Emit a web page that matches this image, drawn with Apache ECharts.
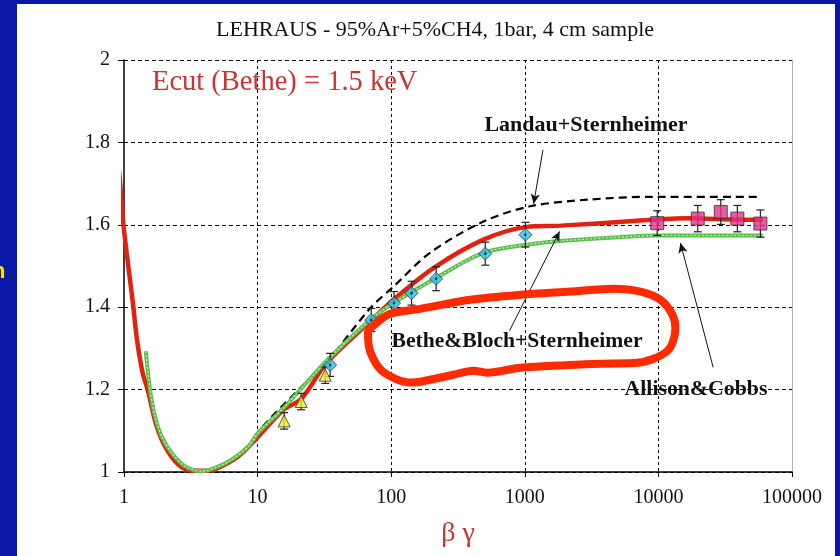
<!DOCTYPE html>
<html>
<head>
<meta charset="utf-8">
<script src="https://cdn.jsdelivr.net/npm/echarts@6/dist/echarts.min.js"></script>
<style>
  html, body { margin: 0; padding: 0; background: #0b18a6; overflow: hidden; }
  #panel { position: absolute; left: 17px; top: 4px; width: 818px; height: 552px; background: #fff; }
  #chart { position: absolute; left: 0; top: 0; width: 840px; height: 556px; }
</style>
</head>
<body>
<div id="panel"></div>
<div id="chart"></div>
<script>
// Relative most-probable energy loss vs beta*gamma, 95%Ar+5%CH4, 1 bar, 4 cm sample

// axis ticks
const xTickLabels = ['1', '10', '100', '1000', '10000', '100000'];
const yTickLabels = ['1', '1.2', '1.4', '1.6', '1.8', '2'];

// Bethe & Bloch + Sternheimer
const redX = [0.917, 0.95, 0.988, 1.047, 1.109, 1.174, 1.251, 1.38, 1.505, 1.727, 2.03, 2.55, 3.21, 4.28, 5.39, 7.18, 9.6, 15.6, 21.2, 32.9, 69.8, 104, 207, 490, 1035, 1855, 6500, 16400, 36600, 60500];
const redY = [1.733, 1.677, 1.604, 1.532, 1.467, 1.402, 1.321, 1.24, 1.2, 1.119, 1.062, 1.018, 1.003, 1.003, 1.014, 1.038, 1.078, 1.151, 1.177, 1.265, 1.366, 1.418, 1.495, 1.564, 1.595, 1.598, 1.609, 1.616, 1.613, 1.612];

// Allison & Cobbs
const greenX = [1.454, 1.566, 1.707, 1.916, 2.277, 2.86, 3.82, 4.8, 6.4, 8.52, 10.1, 15.6, 32.9, 70, 104, 207, 490, 1300, 2070, 5000, 9800, 60500];
const greenY = [1.293, 1.2, 1.135, 1.086, 1.046, 1.014, 1.002, 1.01, 1.03, 1.062, 1.095, 1.155, 1.27, 1.37, 1.41, 1.467, 1.532, 1.556, 1.562, 1.57, 1.574, 1.574];

// Landau + Sternheimer
const landauX = [1.454, 1.566, 1.707, 1.916, 2.277, 2.86, 3.82, 4.8, 6.4, 8.52, 10.4, 22.1, 32.1, 69.8, 104, 195, 490, 1100, 2940, 9200, 58000];
const landauY = [1.293, 1.2, 1.135, 1.086, 1.046, 1.014, 1.002, 1.01, 1.03, 1.062, 1.103, 1.212, 1.262, 1.398, 1.45, 1.532, 1.608, 1.645, 1.661, 1.668, 1.668];

// measurements (value and error)
const triX = [15.8, 21.2, 32.1];
const triY = [1.124, 1.171, 1.235];
const triErr = [0.02, 0.02, 0.02];

const diaX = [34.9, 70.9, 105, 142, 217, 506, 1010];
const diaY = [1.26, 1.369, 1.41, 1.434, 1.469, 1.53, 1.576];
const diaErr = [0.028, 0.028, 0.028, 0.029, 0.029, 0.028, 0.03];

const sqX = [9800, 19700, 29300, 39000, 58000];
const sqY = [1.604, 1.615, 1.631, 1.615, 1.603];
const sqErr = [0.03, 0.032, 0.03, 0.032, 0.033];

// hand-drawn highlight loop around the Bethe&Bloch label
const loopX = [73.3, 98.3, 165, 391, 925, 2192, 4602, 7333, 10350, 12730, 13410, 11680, 6961, 3678, 2192, 925, 524, 411, 291, 165, 139, 87, 70, 67, 73.3];
const loopY = [1.355, 1.384, 1.396, 1.418, 1.43, 1.438, 1.445, 1.438, 1.418, 1.382, 1.348, 1.294, 1.265, 1.263, 1.26, 1.253, 1.241, 1.246, 1.236, 1.219, 1.217, 1.243, 1.29, 1.338, 1.355];

// arrows: [fromX, fromY, toX, toY]
const arrowLandau = [1368, 1.782, 1164, 1.651];
const arrowBethe = [769, 1.343, 1823, 1.584];
const arrowAllison = [25690, 1.254, 14620, 1.556];

const SERIF = '"Liberation Serif", "Times New Roman", serif';

function pairs(xs, ys) { return xs.map((x, i) => [x, ys[i]]); }

function errorBars(xs, ys, es) {
  return {
    type: 'custom',
    z: 5,
    silent: true,
    data: xs.map((x, i) => [x, ys[i] - es[i], ys[i] + es[i]]),
    encode: { x: 0, y: [1, 2] },
    renderItem(params, api) {
      const lo = api.coord([api.value(0), api.value(1)]);
      const hi = api.coord([api.value(0), api.value(2)]);
      const w = 4;
      const st = { stroke: '#222', lineWidth: 1.2 };
      return {
        type: 'group',
        children: [
          { type: 'line', shape: { x1: lo[0], y1: lo[1], x2: hi[0], y2: hi[1] }, style: st },
          { type: 'line', shape: { x1: lo[0] - w, y1: lo[1], x2: lo[0] + w, y2: lo[1] }, style: st },
          { type: 'line', shape: { x1: hi[0] - w, y1: hi[1], x2: hi[0] + w, y2: hi[1] }, style: st }
        ]
      };
    }
  };
}

function arrow(a) {
  return [{ coord: [a[0], a[1]], symbol: 'none' }, { coord: [a[2], a[3]], symbol: 'arrow' }];
}

const chart = echarts.init(document.getElementById('chart'), null, { renderer: 'canvas' });

chart.setOption({
  backgroundColor: 'transparent',
  animation: false,
  grid: { left: 124, right: 48, top: 60, bottom: 84, containLabel: false },
  xAxis: {
    type: 'log',
    logBase: 10,
    min: 1,
    max: 100000,
    name: 'β γ',
    nameLocation: 'middle',
    nameGap: 48,
    nameTextStyle: { fontFamily: SERIF, fontSize: 28, color: '#c8342c' },
    axisLine: { onZero: false, lineStyle: { color: '#000', width: 1.5 } },
    axisTick: { show: true, length: 5, lineStyle: { color: '#000' } },
    minorTick: { show: false },
    axisLabel: {
      fontFamily: SERIF, fontSize: 20, color: '#111', margin: 16,
      formatter: v => xTickLabels[Math.round(Math.log10(v))]
    },
    splitLine: { show: true, showMinLine: false, showMaxLine: false, lineStyle: { color: '#000', type: [3, 3], width: 1 } }
  },
  yAxis: [
    {
      type: 'value',
      min: 1,
      max: 2,
      interval: 0.2,
      axisLine: { show: true, lineStyle: { color: '#000', width: 1.5 } },
      axisTick: { show: true, length: 6, lineStyle: { color: '#000' } },
      axisLabel: {
        fontFamily: SERIF, fontSize: 20, color: '#111', margin: 14,
        formatter: v => yTickLabels[Math.round((v - 1) / 0.2)]
      },
      splitLine: { show: true, lineStyle: { color: '#000', type: [4, 3], width: 1 } }
    },
    {
      type: 'value',
      position: 'right',
      min: 1,
      max: 2,
      axisLine: { show: true, lineStyle: { color: '#b4b4b4', width: 1 } },
      axisTick: { show: false },
      axisLabel: { show: false },
      splitLine: { show: false }
    }
  ],
  graphic: [
    {
      type: 'text', left: 216, top: 19,
      style: { text: 'LEHRAUS - 95%Ar+5%CH4, 1bar, 4 cm sample', font: '22px ' + SERIF, fill: '#111' }
    },
    {
      type: 'text', left: 152, top: 68,
      style: { text: 'Ecut (Bethe) = 1.5 keV', font: '28.5px ' + SERIF, fill: '#cc3333' }
    },
    {
      type: 'text', x: 586, y: 125,
      style: { text: 'Landau+Sternheimer', font: 'bold 22px ' + SERIF, fill: '#111', align: 'center', verticalAlign: 'middle' }
    },
    {
      type: 'text', x: 517, y: 341,
      style: { text: 'Bethe&Bloch+Sternheimer', font: 'bold 21.6px ' + SERIF, fill: '#111', align: 'center', verticalAlign: 'middle' }
    },
    {
      type: 'text', x: 696, y: 389,
      style: { text: 'Allison&Cobbs', font: 'bold 21.8px ' + SERIF, fill: '#111', align: 'center', verticalAlign: 'middle' }
    },
    {
      type: 'text', x: -8, y: 261,
      style: { text: 'n', font: 'bold 22px "Liberation Sans", Arial, sans-serif', fill: '#f2e400' }
    }
  ],
  series: [
    {
      name: 'Bethe&Bloch+Sternheimer',
      type: 'line',
      data: pairs(redX, redY),
      smooth: 0.3,
      showSymbol: false,
      clip: false,
      z: 2,
      lineStyle: { color: '#e0220e', width: 4.5 }
    },
    {
      name: 'Landau+Sternheimer',
      type: 'line',
      data: pairs(landauX, landauY),
      smooth: 0.3,
      showSymbol: false,
      z: 3,
      lineStyle: { color: '#000', width: 2.2, type: [8, 5] }
    },
    {
      name: 'Allison&Cobbs',
      type: 'line',
      data: pairs(greenX, greenY),
      smooth: 0.3,
      showSymbol: false,
      z: 4,
      lineStyle: { color: '#5cbf4f', width: 4 }
    },
    {
      type: 'line',
      data: pairs(greenX, greenY),
      smooth: 0.3,
      showSymbol: false,
      silent: true,
      z: 4,
      lineStyle: { color: '#c4ecb8', width: 1.2, type: [2, 2] }
    },
    errorBars(triX, triY, triErr),
    errorBars(diaX, diaY, diaErr),
    errorBars(sqX, sqY, sqErr),
    {
      type: 'scatter',
      data: pairs(triX, triY),
      symbol: 'triangle',
      symbolSize: 12,
      z: 6,
      itemStyle: { color: '#f4e628', borderColor: '#333', borderWidth: 1 }
    },
    {
      type: 'scatter',
      data: pairs(diaX, diaY),
      symbol: 'diamond',
      symbolSize: 13,
      z: 6,
      itemStyle: { color: '#2cc3ea', borderColor: '#333', borderWidth: 1 }
    },
    {
      type: 'scatter',
      data: pairs(diaX, diaY),
      symbol: 'circle',
      symbolSize: 2.5,
      z: 7,
      itemStyle: { color: '#111' }
    },
    {
      type: 'scatter',
      data: pairs(sqX, sqY),
      symbol: 'rect',
      symbolSize: 13,
      z: 6,
      itemStyle: { color: '#e8308c', borderColor: '#333', borderWidth: 1 }
    },
    {
      type: 'line',
      data: [],
      silent: true,
      markLine: {
        silent: true,
        symbolSize: [7, 10],
        label: { show: false },
        lineStyle: { color: '#111', width: 1, type: 'solid' },
        data: [arrow(arrowLandau), arrow(arrowBethe), arrow(arrowAllison)]
      }
    },
    {
      type: 'line',
      data: pairs(loopX, loopY),
      smooth: 0.3,
      showSymbol: false,
      silent: true,
      clip: false,
      z: 10,
      lineStyle: { color: '#ff2a00', width: 8, cap: 'round', join: 'round' }
    }
  ]
});
</script>
</body>
</html>
